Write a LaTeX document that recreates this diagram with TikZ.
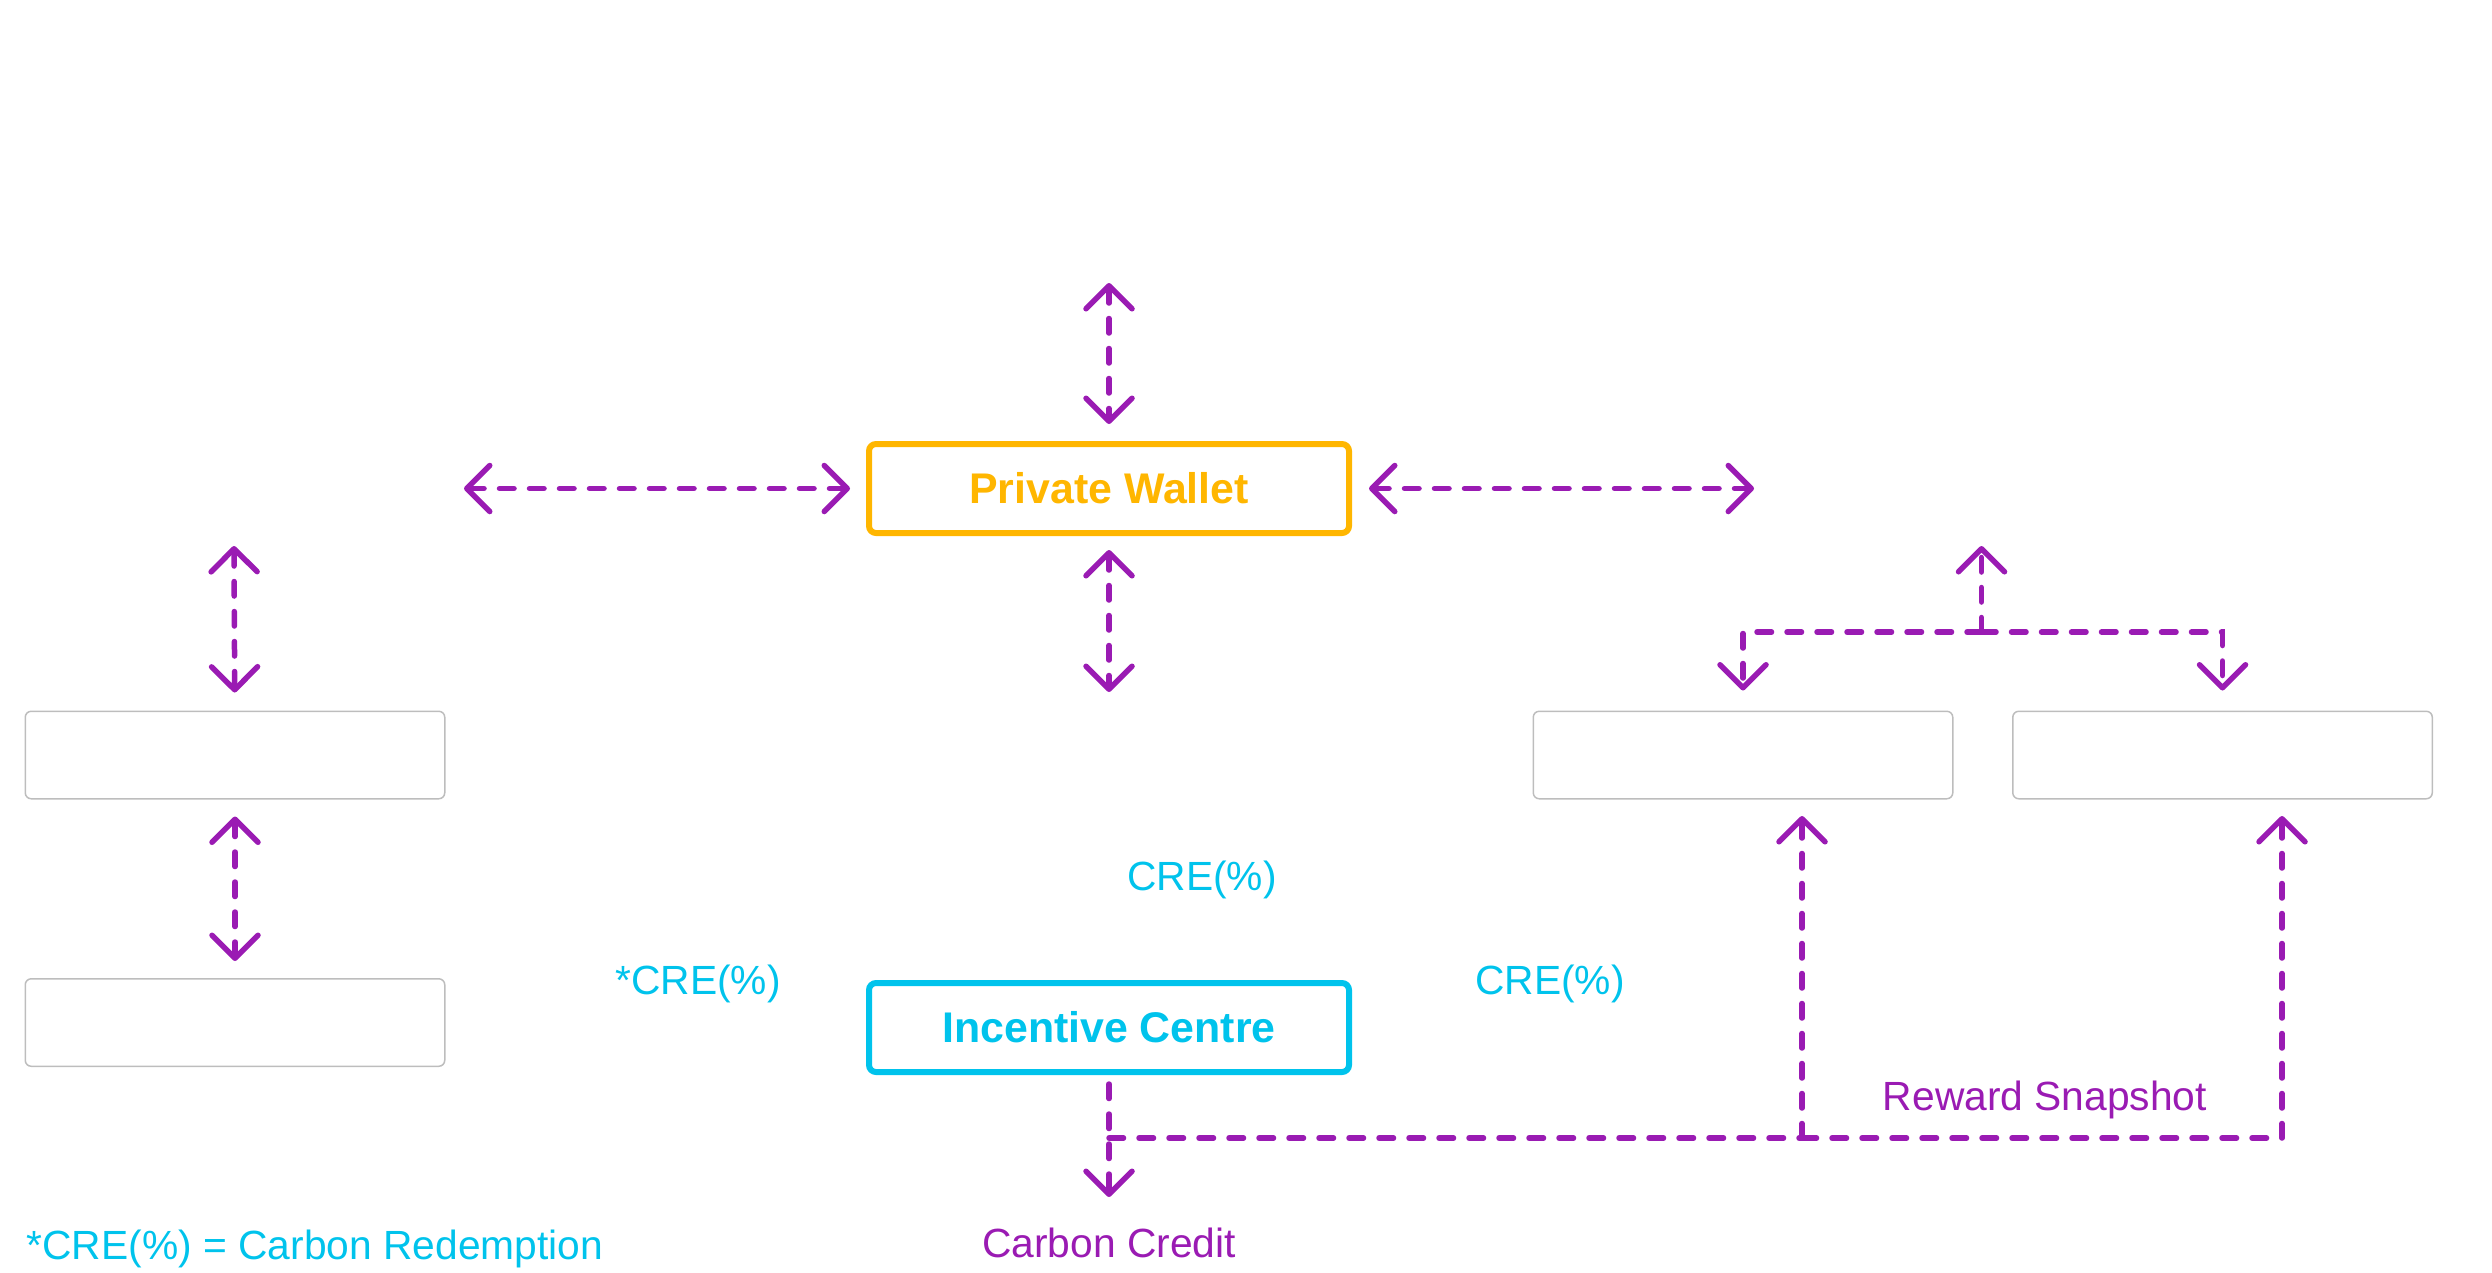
\documentclass[tikz,border=0pt]{standalone}
\usepackage{fontspec}
\setmainfont{Liberation Sans}
\usetikzlibrary{arrows.meta,positioning}
\definecolor{flowpurple}{HTML}{9A1BB3}
\definecolor{walletamber}{HTML}{FFB600}
\definecolor{centrecyan}{HTML}{00C3EC}
\definecolor{boxgrey}{HTML}{BDBDBD}

\begin{document}
\begin{tikzpicture}[>={Straight Barb[length=0.23cm,width=0.46cm,round]},
    flow/.style={draw=flowpurple,line width=0.055cm,line cap=round,dash pattern=on 0.145cm off 0.155cm},
    gap/.style={shorten >=0.17cm,shorten <=0.17cm},
    main node/.style={rounded corners=0.07cm,line width=0.06cm,minimum width=4.80cm,minimum height=0.89cm,inner sep=0pt,font=\fontsize{12.2}{14}\selectfont\bfseries},
    empty node/.style={draw=boxgrey,rounded corners=0.06cm,line width=0.015cm,minimum width=4.195cm,minimum height=0.875cm,inner sep=0pt},
    note text/.style={font=\fontsize{11.6}{14}\selectfont,inner sep=0pt,anchor=base}]
                \useasboundingbox (0,0) rectangle (24.92,-12.72);

                \node[main node,draw=walletamber,text=walletamber] (pw) at (11.09,-4.885) {Private Wallet};
                \node[main node,draw=centrecyan,text=centrecyan] (ic) [below=4.44cm of pw] {Incentive Centre};
                \node[empty node] (lb1) at (2.35,-7.55) {};
                \node[empty node] (lb2) [below=1.785cm of lb1] {};
                \node[empty node] (rb1) at (17.43,-7.55) {};
                \node[empty node] (rb2) [right=0.585cm of rb1] {};

                \coordinate (pwup) at (11.09,-2.83);
                \coordinate (pwdown) at (11.09,-6.92);
                \coordinate (pwleft) at (4.64,-4.885);
                \coordinate (pwright) at (17.54,-4.885);
                \coordinate (lbup) at (2.34,-5.46);
                \coordinate (fork) at (19.815,-6.32);
                \coordinate (forkup) at (19.815,-5.46);
                \coordinate (ccend) at (11.09,-11.97);
                \coordinate (split) at (11.09,-11.38);
                \coordinate (snapa) at (18.02,-11.38);
                \coordinate (snapaup) at (18.02,-8.16);
                \coordinate (snapbup) at (22.82,-8.16);

                \node[note text,text=centrecyan] (cre) at (12.02,-8.90) {CRE(\%)};
                \node[note text,text=centrecyan] (crel) at (6.98,-9.94) {*CRE(\%)};
                \node[note text,text=centrecyan] (crer) at (15.50,-9.94) {CRE(\%)};
                \node[note text,text=flowpurple] (snap) at (20.45,-11.10) {Reward Snapshot};
                \node[note text,text=flowpurple] (cc) at (11.09,-12.57) {Carbon Credit};
                \node[note text,text=centrecyan,anchor=base west] (key) at (0.26,-12.59) {*CRE(\%) = Carbon Redemption};

                \path[flow]
                    (pwup) edge[<->,shorten >=0.17cm] (pw)
                    (pwleft) edge[<->,shorten >=0.16cm] (pw)
                    (pw) edge[<->,shorten <=0.17cm] (pwright)
                    (pw) edge[<->,shorten <=0.14cm] (pwdown)
                    (lbup) edge[<->,shorten >=0.18cm] (lb1)
                    (lb1) edge[<->,gap] (lb2)
                    (ic) edge[->,shorten <=0.09cm] (ccend)
                    ;

                \draw[flow,->] (fork) -- (forkup);
                \draw[flow,->,shorten >=0.2cm] (fork) -| (rb1);
                \draw[flow,->,shorten >=0.2cm] (fork) -| (rb2);
                \draw[flow] (split) -- (snapa);
                \draw[flow,->] (snapa) -- (snapaup);
                \draw[flow,->] (snapa) -| (snapbup);
            \end{tikzpicture}
\end{document}
